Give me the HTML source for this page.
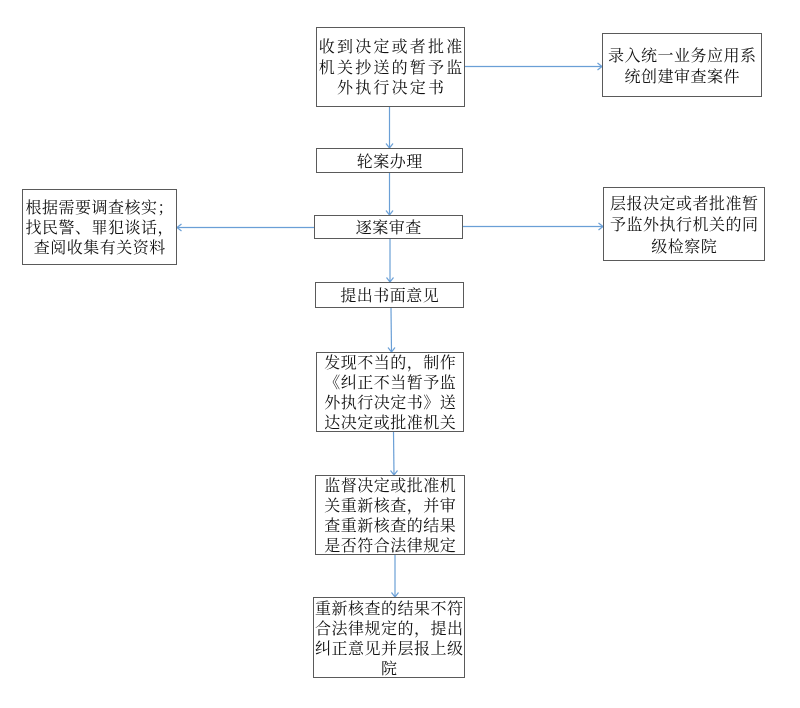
<!DOCTYPE html>
<html><head><meta charset="utf-8">
<style>
html,body{margin:0;padding:0;background:#fff;}
body{width:800px;height:708px;position:relative;overflow:hidden;}
.b{position:absolute;box-sizing:border-box;border:1px solid #5a5a5a;display:flex;align-items:center;justify-content:center;text-align:center;
font-family:"Noto Serif CJK SC","Liberation Serif",serif;font-size:16px;color:#111;line-height:20px;letter-spacing:0.5px;padding-left:0.5px;white-space:nowrap;}
svg{position:absolute;left:0;top:0;}
</style></head><body>
<svg width="800" height="708" viewBox="0 0 800 708">
<g stroke="#6a9fd6" stroke-width="1.2" fill="none">
<line x1="389.5" y1="107" x2="389.5" y2="148"/>
<polyline points="386,143.5 389.5,148 393,143.5"/>
<line x1="465" y1="66.5" x2="602" y2="66.5"/>
<polyline points="597.5,63 602,66.5 597.5,70"/>
<line x1="389.5" y1="173" x2="389.5" y2="215"/>
<polyline points="386,210.5 389.5,215 393,210.5"/>
<line x1="314" y1="227.5" x2="177" y2="227.5"/>
<polyline points="181.5,224 177,227.5 181.5,231"/>
<line x1="463" y1="226.5" x2="603" y2="226.5"/>
<polyline points="598.5,223 603,226.5 598.5,230"/>
<line x1="390" y1="239" x2="390" y2="282"/>
<polyline points="386.5,277.5 390,282 393.5,277.5"/>
<line x1="391" y1="308" x2="391.5" y2="352"/>
<polyline points="388,347.5 391.5,352 395,347.5"/>
<line x1="393.5" y1="432" x2="394" y2="475"/>
<polyline points="390.5,470.5 394,475 397.5,470.5"/>
<line x1="395" y1="555" x2="395" y2="597"/>
<polyline points="391.5,592.5 395,597 398.5,592.5"/>
</g>
</svg>

<div class="b" style="left:316px;top:27px;width:149px;height:80px;letter-spacing:2.2px;padding-left:2.2px;line-height:20.5px;">收到决定或者批准<br>机关抄送的暂予监<br>外执行决定书</div>
<div class="b" style="left:602px;top:33px;width:160px;height:64px;line-height:21px;">录入统一业务应用系<br>统创建审查案件</div>
<div class="b" style="left:316px;top:148px;width:147px;height:25px;">轮案办理</div>
<div class="b" style="left:22px;top:189px;width:155px;height:76px;">根据需要调查核实；<br>找民警、罪犯谈话，<br>查阅收集有关资料</div>
<div class="b" style="left:314px;top:215px;width:149px;height:24px;">逐案审查</div>
<div class="b" style="left:603px;top:187px;width:162px;height:74px;line-height:21.5px;">层报决定或者批准暂<br>予监外执行机关的同<br>级检察院</div>
<div class="b" style="left:315px;top:282px;width:149px;height:26px;">提出书面意见</div>
<div class="b" style="left:316px;top:352px;width:148px;height:80px;">发现不当的，制作<br>《纠正不当暂予监<br>外执行决定书》送<br>达决定或批准机关</div>
<div class="b" style="left:315px;top:475px;width:150px;height:80px;">监督决定或批准机<br>关重新核查，并审<br>查重新核查的结果<br>是否符合法律规定</div>
<div class="b" style="left:313px;top:597px;width:152px;height:81px;">重新核查的结果不符<br>合法律规定的，提出<br>纠正意见并层报上级<br>院</div>
</body></html>
